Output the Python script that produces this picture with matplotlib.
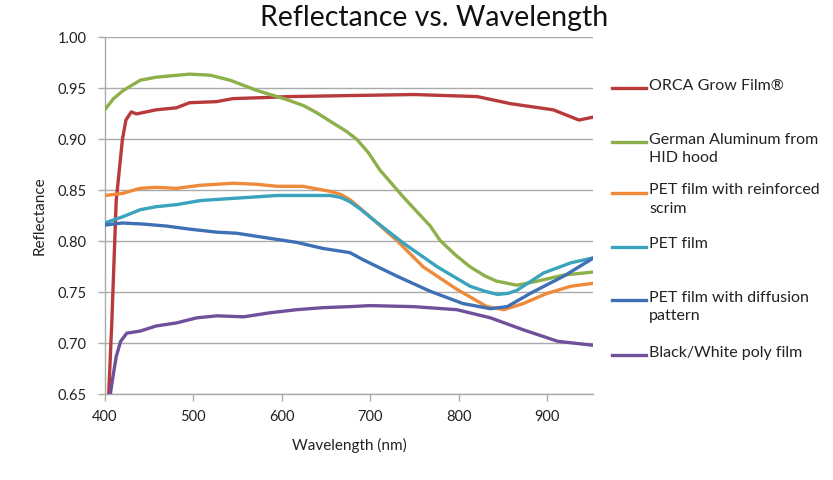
import matplotlib
matplotlib.use("Agg")
import matplotlib.pyplot as plt
from matplotlib.lines import Line2D
import numpy as np

plt.rcParams["font.family"] = ["Lato", "DejaVu Sans"]

# values (wavelength nm, reflectance)
orca_wl = [402, 408, 413, 420, 424, 430, 436, 458, 481, 496, 526, 545, 579, 609, 677,
           750, 821, 859, 907, 936, 953]
orca_r = [0.60, 0.72, 0.84, 0.900, 0.919, 0.927, 0.925, 0.929, 0.931, 0.936, 0.937, 0.940,
          0.941, 0.942, 0.943, 0.944, 0.942, 0.935, 0.929, 0.919, 0.922]

alu_wl = [400, 410, 421, 440, 458, 496, 519, 542, 572, 606, 625, 640, 660, 673, 685,
          698, 711, 738, 768, 779, 796, 813, 830, 843, 866, 889, 919, 953]
alu_r = [0.929, 0.940, 0.948, 0.958, 0.961, 0.964, 0.963, 0.958, 0.948, 0.939, 0.933,
         0.926, 0.915, 0.908, 0.900, 0.887, 0.870, 0.843, 0.815, 0.801, 0.787, 0.775,
         0.766, 0.761, 0.757, 0.761, 0.767, 0.770]

scrim_wl = [400, 420, 440, 458, 481, 508, 545, 572, 595, 624, 655, 667, 677, 688, 700,
            730, 760, 798, 832, 851, 873, 900, 927, 953]
scrim_r = [0.845, 0.847, 0.852, 0.853, 0.852, 0.855, 0.857, 0.856, 0.854, 0.854, 0.849,
           0.846, 0.841, 0.833, 0.824, 0.801, 0.775, 0.753, 0.736, 0.733, 0.739, 0.749,
           0.756, 0.759]

pet_wl = [400, 420, 440, 458, 481, 508, 542, 595, 624, 655, 667, 677, 690, 704, 738,
          776, 813, 830, 844, 856, 866, 896, 927, 953]
pet_r = [0.818, 0.824, 0.831, 0.834, 0.836, 0.840, 0.842, 0.845, 0.845, 0.845, 0.843,
         0.839, 0.831, 0.821, 0.798, 0.775, 0.756, 0.751, 0.748, 0.749, 0.752, 0.769,
         0.779, 0.784]

diff_wl = [400, 420, 443, 470, 496, 527, 549, 579, 617, 647, 677, 692, 730, 768, 805,
           836, 855, 881, 919, 953]
diff_r = [0.816, 0.818, 0.817, 0.815, 0.812, 0.809, 0.808, 0.804, 0.799, 0.793, 0.789,
          0.782, 0.766, 0.751, 0.739, 0.734, 0.736, 0.749, 0.766, 0.784]

bw_wl = [403, 408, 413, 418, 425, 440, 458, 481, 504, 527, 557, 587, 617, 647, 677,
         700, 749, 798, 836, 874, 912, 953]
bw_r = [0.63, 0.66, 0.687, 0.702, 0.710, 0.712, 0.717, 0.720, 0.725, 0.727, 0.726,
        0.730, 0.733, 0.735, 0.736, 0.737, 0.736, 0.733, 0.725, 0.713, 0.702, 0.698]

series = [
    (orca_wl, orca_r, "#B83A3A", "ORCA Grow Film®"),
    (alu_wl, alu_r, "#8DB04A", "German Aluminum from\nHID hood"),
    (scrim_wl, scrim_r, "#EE8A3A", "PET film with reinforced\nscrim"),
    (pet_wl, pet_r, "#3AA3BE", "PET film"),
    (diff_wl, diff_r, "#3F6FB5", "PET film with diffusion\npattern"),
    (bw_wl, bw_r, "#70509A", "Black/White poly film"),
]

fig = plt.figure(figsize=(8.33, 4.8), dpi=100)
ax = fig.add_axes([0.1257, 0.1785, 0.712 - 0.1257, 0.922 - 0.1785])

for wl, r, c, lab in series:
    ax.plot(wl, r, color=c, lw=2.4, solid_capstyle="round", solid_joinstyle="round",
            zorder=3)

ax.set_xlim(400, 952)
ax.set_ylim(0.65, 1.00)
ax.set_xticks([400, 500, 600, 700, 800, 900])
ax.set_yticks(np.arange(0.65, 1.001, 0.05))
ax.set_yticklabels([f"{v:.2f}" for v in np.arange(0.65, 1.001, 0.05)])
ax.yaxis.grid(True, color="#AAAAAA", lw=1.0, zorder=0)
for s in ["top", "right"]:
    ax.spines[s].set_visible(False)
for s in ["left", "bottom"]:
    ax.spines[s].set_color("#AAAAAA")
    ax.spines[s].set_linewidth(1.0)
ax.tick_params(axis="both", colors="#AAAAAA", labelcolor="#222222", labelsize=10.5,
               length=5, width=1.0)
ax.tick_params(axis="x", pad=6)
ax.tick_params(axis="y", pad=8)
ax.set_xlabel("Wavelength (nm)", fontsize=11, labelpad=10, color="#222222")
ax.set_ylabel("Reflectance", fontsize=11, labelpad=8, color="#222222")
fig.suptitle("Reflectance vs. Wavelength", fontsize=20.5, x=0.521, y=0.99, color="#111111")

# legend drawn by hand so the swatch sits on the first text line
H, W = 480, 833
ys = [88, 142, 193, 247, 300, 355]
for (wl, r, c, lab), y in zip(series, ys):
    yf = 1 - y / H
    fig.add_artist(Line2D([612 / W, 646 / W], [yf, yf], color=c, lw=2.4,
                          transform=fig.transFigure))
    fig.text(649 / W, yf + 9.5 / H, lab, fontsize=11.5, va="top", ha="left",
             linespacing=1.4, color="#222222")

fig.savefig("out.png")
